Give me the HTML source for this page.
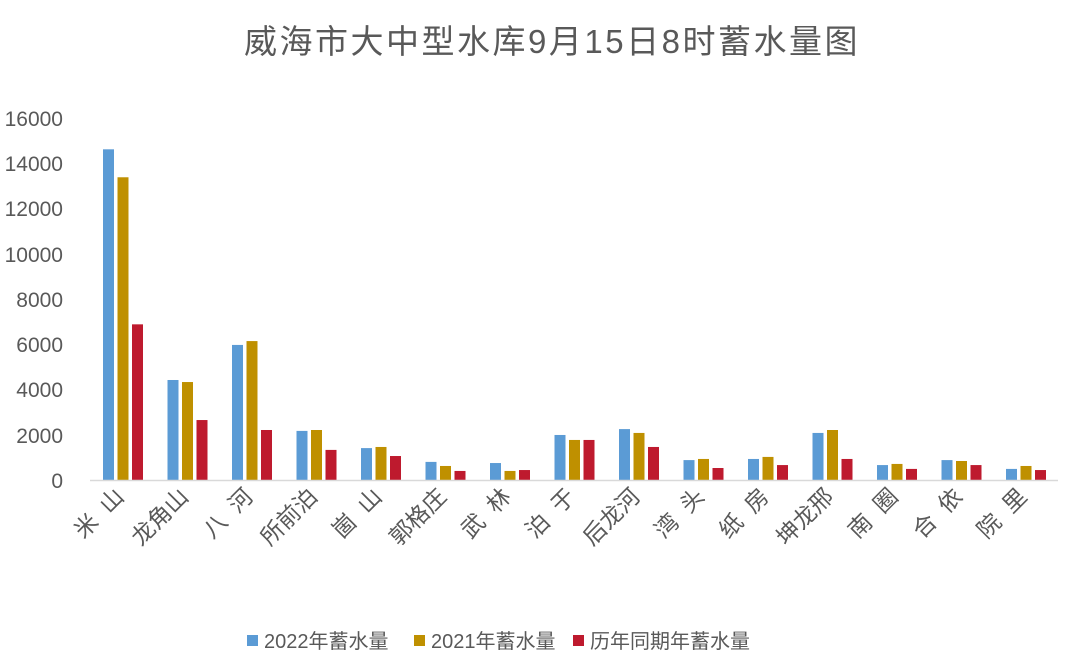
<!DOCTYPE html>
<html><head><meta charset="utf-8"><style>
html,body{margin:0;padding:0;background:#fff;}
svg text{font-family:"Liberation Sans","Noto Sans CJK SC",sans-serif;fill:#595959;}
</style></head><body>
<svg width="1077" height="665" viewBox="0 0 1077 665" xmlns="http://www.w3.org/2000/svg">
<text x="552" y="53" font-size="33" text-anchor="middle" letter-spacing="2.5">威海市大中型水库9月15日8时蓄水量图</text>
<g font-size="21" text-anchor="end">
<text x="63" y="488">0</text>
<text x="63" y="443">2000</text>
<text x="63" y="397">4000</text>
<text x="63" y="352">6000</text>
<text x="63" y="307">8000</text>
<text x="63" y="262">10000</text>
<text x="63" y="216">12000</text>
<text x="63" y="171">14000</text>
<text x="63" y="126">16000</text>
</g>
<g id="bars"></g>
<line x1="90" y1="480.5" x2="1058" y2="480.5" stroke="#d9d9d9" stroke-width="1.5"/>
<g id="labels" font-size="23" text-anchor="end"></g>
<g font-size="20">
<rect x="247" y="635" width="11" height="11" fill="#5b9bd5"/><text x="264" y="648">2022年蓄水量</text>
<rect x="414" y="635" width="11" height="11" fill="#bf9000"/><text x="431" y="648">2021年蓄水量</text>
<rect x="573" y="635" width="11" height="11" fill="#be1a2e"/><text x="590" y="648">历年同期年蓄水量</text>
</g>
<script>
var d=[["米  山",14616,13380,6880],["龙角山",4420,4330,2650],["八  河",5970,6140,2210],["所前泊",2170,2210,1330],["崮  山",1410,1460,1060],["郭格庄",800,620,400],["武  林",750,400,440],["泊  于",1990,1770,1770],["后龙河",2250,2080,1460],["湾  头",880,930,530],["纸  房",930,1020,660],["坤龙邢",2080,2210,930],["南  圈",660,710,490],["合  依",880,840,660],["院  里",490,620,440]];
var c=["#5b9bd5","#bf9000","#be1a2e"],s=362/16000,ns="http://www.w3.org/2000/svg";
var b=document.getElementById("bars"),l=document.getElementById("labels");
d.forEach(function(r,i){var x0=103+i*64.5;
for(var k=0;k<3;k++){var h=r[k+1]*s,e=document.createElementNS(ns,"rect");
e.setAttribute("x",x0+k*14.5);e.setAttribute("y",480-h);e.setAttribute("width",11);e.setAttribute("height",h);e.setAttribute("fill",c[k]);b.appendChild(e);}
var t=document.createElementNS(ns,"text"),cx=90+(i+0.5)*64.5+3;
t.setAttribute("transform","translate("+cx+",498) rotate(-45)");t.setAttribute("xml:space","preserve");t.style.whiteSpace="pre";t.textContent=r[0];l.appendChild(t);});
</script>
</svg>
</body></html>
